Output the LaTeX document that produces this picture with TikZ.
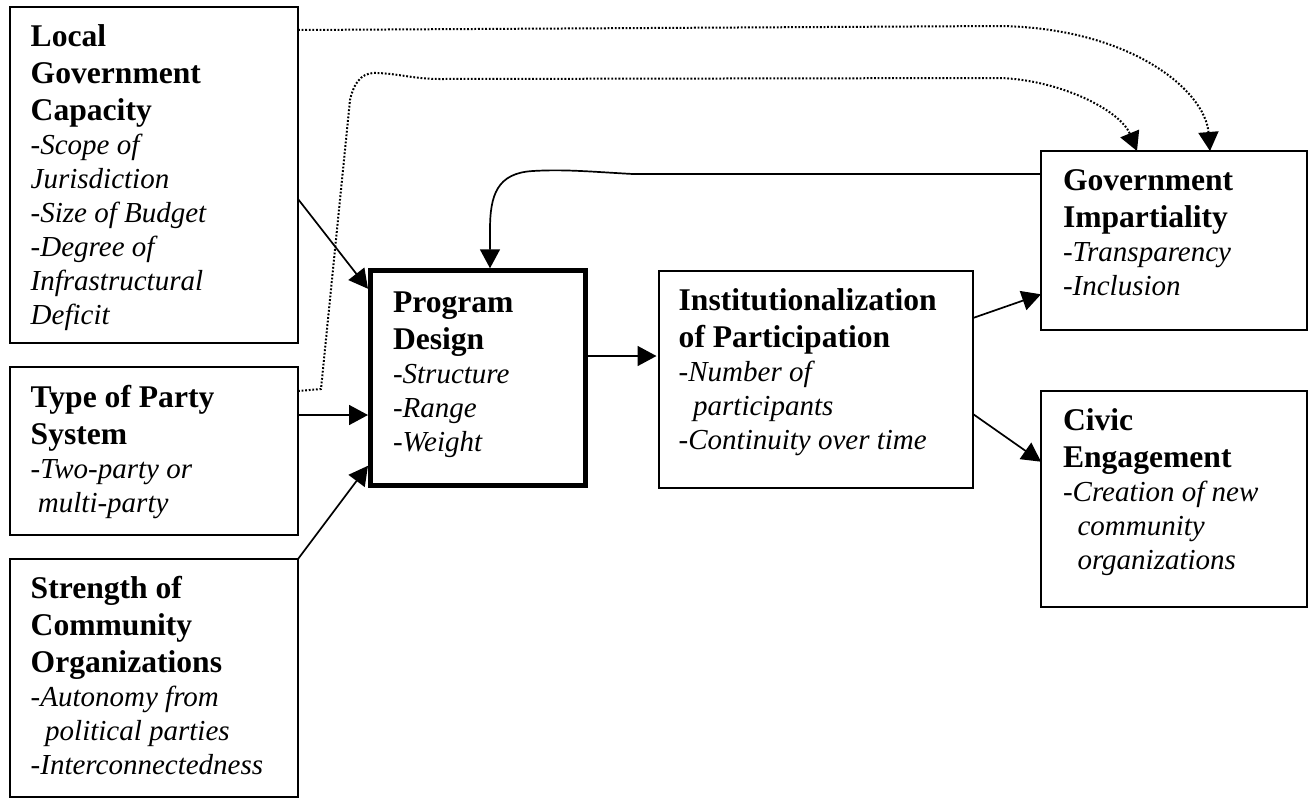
\documentclass[tikz,border=0pt]{standalone}
\usepackage{fontspec}
\setmainfont{Liberation Serif}
\usetikzlibrary{arrows.meta}
\newcommand\mybf[1]{{\fontsize{15.8pt}{18.5pt}\selectfont\bfseries #1\par}}
\newcommand\myit[1]{{\fontsize{14.5pt}{17pt}\selectfont\itshape #1\par}}
\newcommand\mytext[1]{\vtop{\hsize=300pt\parindent=0pt\parskip=0pt\relax #1}}
\tikzset{
  box/.style={draw, line width=0.75pt, inner sep=0pt, outer sep=0pt},
  thickbox/.style={draw, line width=2.5pt, inner sep=0pt, outer sep=0pt},
  txt/.style={anchor=base west, inner sep=0pt, outer sep=0pt},
  conn/.style={line width=0.85pt, -{Triangle[length=9.5pt,width=10pt]}},
  dotconn/.style={conn, line width=1pt, dash pattern=on 0.9pt off 0.9pt},
}
\begin{document}
\begin{tikzpicture}[x=0.5pt,y=-0.5pt]
\useasboundingbox (0,0) rectangle (1313,799);

% boxes
\node[box, minimum width=144pt, minimum height=168pt] (lgc) at (154,175) {};
\node[box, minimum width=144pt, minimum height=84pt] (tps) at (154,451) {};
\node[box, minimum width=144pt, minimum height=119pt] (sco) at (154,678) {};
\node[thickbox, minimum width=107.5pt, minimum height=107.25pt] (pd) at (478,378) {};
\node[box, minimum width=157pt, minimum height=108.5pt] (inst) at (816,379.5) {};
\node[box, minimum width=133pt, minimum height=89.5pt] (gi) at (1174,240.5) {};
\node[box, minimum width=133pt, minimum height=108pt] (ce) at (1174,499) {};

% texts
\node[txt] (lgct) at (30.7,46.7) {\mytext{\mybf{Local}\mybf{Government}\mybf{Capacity}%
  \myit{-Scope of}\myit{Jurisdiction}\myit{-Size of Budget}\myit{-Degree of}%
  \myit{Infrastructural}\myit{Deficit}}};
\node[txt] (tpst) at (30.7,407.3) {\mytext{\mybf{Type of Party}\mybf{System}%
  \myit{-Two-party or}\myit{\hspace*{0.25em}multi-party}}};
\node[txt] (scot) at (30.7,598.3) {\mytext{\mybf{Strength of}\mybf{Community}\mybf{Organizations}%
  \myit{-Autonomy from}\myit{\hspace*{0.5em}political parties}\myit{-Interconnectedness}}};
\node[txt] (pdt) at (393,312.7) {\mytext{\mybf{Program}\mybf{Design}%
  \myit{-Structure}\myit{-Range}\myit{-Weight}}};
\node[txt] (instt) at (678.7,310.7) {\mytext{\mybf{Institutionalization}\mybf{of Participation}%
  \myit{-Number of}\myit{\hspace*{0.5em}participants}\myit{-Continuity over time}}};
\node[txt] (git) at (1063,190.7) {\mytext{\mybf{Government}\mybf{Impartiality}%
  \myit{-Transparency}\myit{-Inclusion}}};
\node[txt] (cet) at (1063,430.7) {\mytext{\mybf{Civic}\mybf{Engagement}%
  \myit{-Creation of new}\myit{\hspace*{0.5em}community}\myit{\hspace*{0.5em}organizations}}};

% solid connectors
\draw[conn] (lgc.east) ++(0,24) -- ([shift={(-1.25pt,-9pt)}]pd.north west);
\draw[conn, shorten >=1.25pt] ([yshift=18pt]tps.east) -- ([yshift=18pt]tps.east -| pd.west);
\draw[conn] (sco.north east) -- ([shift={(-1.25pt,9.75pt)}]pd.south west);
\draw[conn, shorten >=1.25pt] ([yshift=11pt]pd.east) -- ([yshift=11pt]pd.east -| inst.west);
\draw[conn] ([yshift=30.75pt]inst.east) -- ([yshift=-26.9pt]gi.west);
\draw[conn] ([yshift=-17.25pt]inst.east) -- ([yshift=18.65pt]ce.west);
\draw[conn, shorten >=1.25pt] ([yshift=33.25pt]gi.west) -- (633,174)
  .. controls (595,172) and (565,169) .. (533,171)
  .. controls (497,173) and (490,195) .. (490,230)
  -- ([xshift=6pt]pd.north);

% dotted connectors
\draw[dotconn] ([yshift=72.5pt]lgc.east) -- (1000,26)
  .. controls (1130,28) and (1205,90) .. ([xshift=18pt]gi.north);
\draw[dotconn] ([yshift=30pt]tps.east) -- (321,389) -- (350,100)
  .. controls (355,78) and (365,72) .. (378,73)
  .. controls (400,74) and (415,79) .. (440,79)
  -- (1000,78)
  .. controls (1060,80) and (1120,110) .. ([xshift=-18.5pt]gi.north);
\end{tikzpicture}
\end{document}
